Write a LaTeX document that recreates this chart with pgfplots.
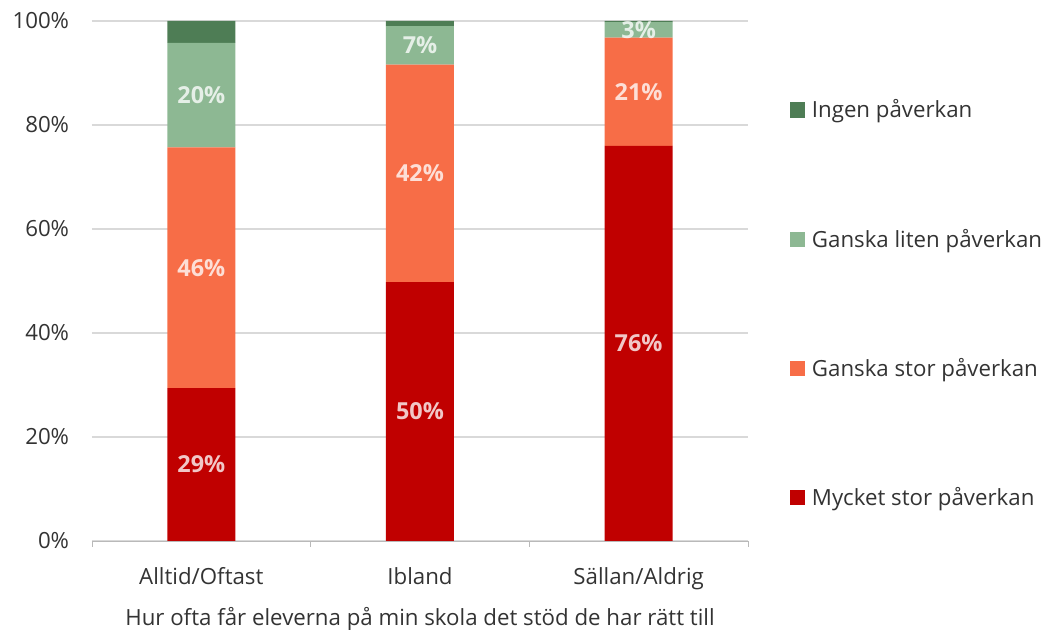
\documentclass[border=0pt]{standalone}
\usepackage{fontspec}
\setmainfont{Open Sans}
\usepackage{pgfplots}
\usepackage{pgfplotstable}
\pgfplotsset{compat=1.18}
\definecolor{ingen}{HTML}{4E7D55}
\definecolor{liten}{HTML}{8DB893}
\definecolor{stor}{HTML}{F76D47}
\definecolor{mycket}{HTML}{C00000}
\definecolor{gridgrey}{HTML}{D9D9D9}
\definecolor{txt}{HTML}{333333}

% andel i procent per svarskategori
\pgfplotstableread{
x mycket stor liten ingen
0 29.4 46.3 20.1 4.2
1 49.8 41.8 7.4 1.0
2 76.0 20.8 3.0 0.2
}\andelar

\begin{document}
\begin{tikzpicture}[font=\fontsize{9.5}{11.4}\selectfont]
\useasboundingbox (-1.38,-1.335) rectangle (14.34,8.115);
\begin{axis}[
    at={(0,0)}, anchor=south west,
    scale only axis, width=9.84cm, height=7.8cm,
    ybar stacked, bar width=1.02cm,
    xmin=-0.5, xmax=2.5, ymin=0, ymax=100,
    xtick={0,1,2},
    xticklabels={Alltid/Oftast,Ibland,Sällan/Aldrig},
    minor xtick={-0.5,0.5,1.5,2.5},
    ytick={0,20,...,100},
    yticklabel={\pgfmathprintnumber{\tick}\%},
    /pgf/number format/assume math mode=true,
    axis x line*=bottom, axis y line*=left,
    x axis line style={-, draw=gray!55},
    y axis line style={draw=none},
    major tick length=0pt, minor tick length=0.09cm,
    xtick align=outside,
    minor x tick style={draw=gray!55},
    ymajorgrids, grid style={gridgrey, line width=0.6pt},
    every tick label/.append style={text=txt},
    yticklabel style={xshift=-0.22cm},
    xticklabel style={yshift=-0.27cm},
    xlabel={Hur ofta får eleverna på min skola det stöd de har rätt till},
    xlabel style={text=txt, yshift=-0.02cm},
    reverse legend,
    legend cell align=left,
    legend style={at={(1.053,0.855)}, anchor=north west, draw=none, fill=none,
        row sep=1.62cm, column sep=0.1cm, text=txt,
        nodes={inner sep=0pt, text height=7pt, text depth=2pt}},
    legend image code/.code={\fill[#1] (0cm,-0.09cm) rectangle (0.225cm,0.145cm);},
    visualization depends on=rawy \as \rawy,
    nodes near coords={\pgfmathprintnumber[fixed,precision=0]{\rawy}\%},
    every node near coord/.append style={font=\fontsize{10}{12}\selectfont\bfseries,
        text=white, text opacity=0.78, anchor=center},
]
\addplot[fill=mycket, draw=none] table[x=x, y=mycket] {\andelar};
\addplot[fill=stor, draw=none] table[x=x, y=stor] {\andelar};
\addplot[fill=liten, draw=none] table[x=x, y=liten] {\andelar};
\addplot[fill=ingen, draw=none, nodes near coords=] table[x=x, y=ingen] {\andelar};
\legend{Mycket stor påverkan, Ganska stor påverkan, Ganska liten påverkan, Ingen påverkan}
\end{axis}
\end{tikzpicture}
\end{document}
